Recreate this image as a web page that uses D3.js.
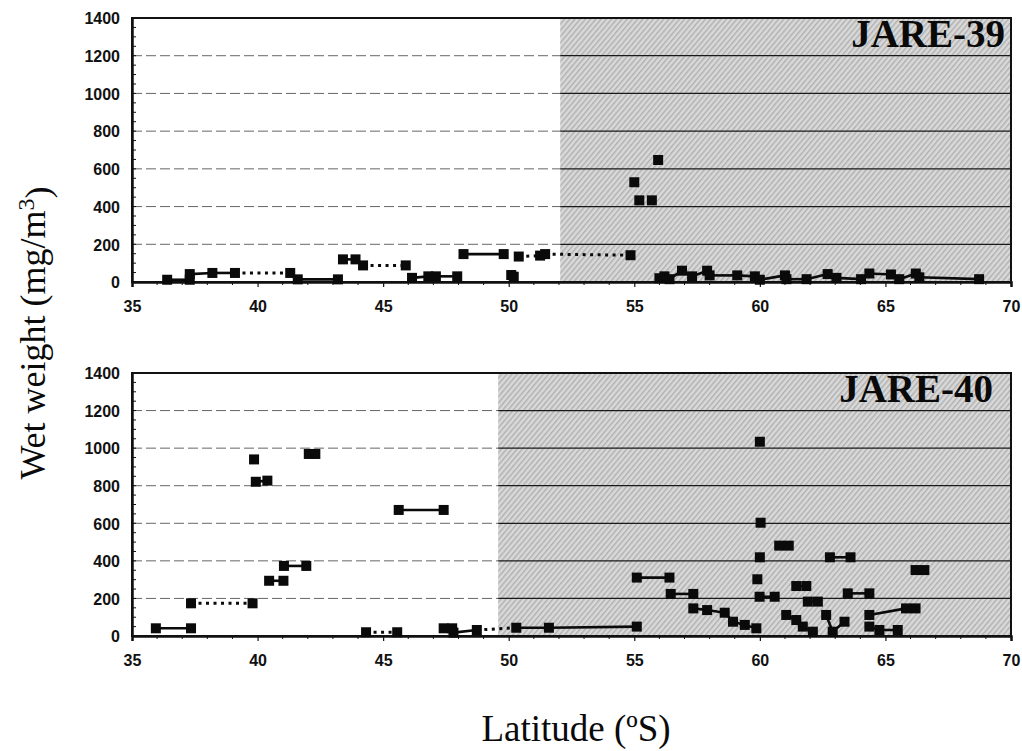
<!DOCTYPE html>
<html>
<head>
<meta charset="utf-8">
<script src="https://cdn.jsdelivr.net/npm/d3@7"></script>
<style>
  body { margin: 0; background: #fff; }
  svg { display: block; }
  .tick-label { font-family: "Liberation Sans", Arial, sans-serif; font-weight: bold; font-size: 16px; }
  .serif { font-family: "Liberation Serif", "Times New Roman", serif; }
</style>
</head>
<body>
<svg></svg>
<script>
const width = 1022;
const height = 751;

// Latitude ticks and weight ticks
const latTicks = [35, 40, 45, 50, 55, 60, 65, 70];
const wtTicks = [0, 200, 400, 600, 800, 1000, 1200, 1400];

// JARE-39 (upper panel): latitude, wet weight, and join to next point ("-" solid, ":" dotted, " " none)
const lat39 = [36.4, 37.3, 37.3, 38.2, 39.1, 41.3, 41.6, 43.2, 43.4, 43.9, 44.2, 45.9,
  46.15, 46.8, 47.1, 47.95, 48.2, 49.8, 50.1, 50.2, 50.4, 51.25, 51.45, 54.85,
  55.0, 55.2, 55.7, 55.95,
  56.0, 56.2, 56.4, 56.9, 57.3, 57.9, 58.0, 59.1, 59.8, 60.0, 61.0, 61.06, 61.86,
  62.7, 63.05, 64.03, 64.36, 65.22, 65.55, 66.21, 66.35, 68.73];
const wt39 = [12, 12, 42, 48, 48, 48, 14, 14, 120, 120, 88, 88,
  22, 30, 30, 30, 148, 148, 37, 28, 135, 140, 148, 142,
  529, 433, 433, 647,
  20, 30, 15, 60, 30, 60, 35, 35, 30, 12, 35, 15, 15,
  42, 22, 15, 45, 40, 15, 45, 25, 15];
const join39 = ["-", " ", "-", "-", ":", " ", "-", " ", "-", "-", ":", " ",
  "-", "-", "-", " ", "-", " ", " ", " ", ":", "-", ":", " ",
  " ", " ", " ", " ",
  "-", "-", "-", "-", "-", "-", "-", "-", "-", "-", "-", "-", "-",
  "-", "-", "-", "-", "-", "-", "-", "-", " "];

// JARE-40 (lower panel)
const lat40 = [35.95, 37.35, 37.35, 39.8, 39.86, 39.93, 40.39, 40.46, 41.03, 41.05, 41.94, 42.04, 42.3,
  44.32, 45.56, 45.62, 47.41, 47.41, 47.75, 47.8, 48.73, 50.3, 51.6, 55.1, 55.1, 56.4,
  56.45, 57.35, 57.35, 57.9, 58.6, 58.93, 59.4, 59.86, 60.0, 60.03, 60.0, 59.9, 59.99, 60.59,
  60.77, 61.15, 61.05, 61.45, 61.71, 62.11, 61.45, 61.85, 61.91, 62.31, 62.64, 62.9, 63.37,
  62.79, 63.61, 63.5, 64.36, 64.36, 64.76, 65.49, 64.36, 65.82, 66.2, 66.2, 66.55];
const wt40 = [41, 41, 174, 174, 940, 821, 827, 294, 294, 373, 373, 969, 969,
  20, 20, 671, 671, 41, 41, 18, 32, 44, 44, 50, 311, 311,
  224, 224, 147, 138, 124, 76, 59, 41, 1034, 603, 419, 302, 209, 209,
  481, 481, 112, 85, 50, 23, 266, 266, 183, 183, 112, 23, 76,
  419, 419, 227, 227, 50, 32, 32, 112, 147, 147, 351, 351];
const join40 = ["-", " ", ":", " ", " ", "-", " ", "-", " ", "-", " ", "-", " ",
  ":", " ", "-", " ", "-", "-", "-", ":", "-", "-", " ", "-", " ",
  "-", " ", "-", "-", "-", "-", "-", " ", " ", " ", " ", " ", "-", " ",
  "-", " ", "-", "-", "-", " ", "-", " ", "-", " ", "-", "-", " ",
  "-", " ", "-", " ", "-", "-", " ", "-", "-", " ", "-", " "];

const svg = d3.select("svg")
  .attr("width", width)
  .attr("height", height);

svg.append("rect").attr("width", width).attr("height", height).attr("fill", "#fff");

const defs = svg.append("defs");
const pat = defs.append("pattern")
  .attr("id", "shade")
  .attr("width", 4)
  .attr("height", 4)
  .attr("patternUnits", "userSpaceOnUse")
  .attr("patternTransform", "rotate(40)");
pat.append("rect").attr("width", 4).attr("height", 4).attr("fill", "#d9d9d9");
pat.append("rect").attr("width", 1.4).attr("height", 4).attr("fill", "#afafaf");

const x = d3.scaleLinear().domain([35, 70]).range([132, 1011]);

function drawPanel(cfg) {
  const y = d3.scaleLinear().domain([0, 1400]).range([cfg.bottom, cfg.top]);
  const g = svg.append("g");

  // shaded (south of the front) region
  g.append("rect")
    .attr("x", x(cfg.shadeFrom))
    .attr("y", y(1400))
    .attr("width", x(70) - x(cfg.shadeFrom))
    .attr("height", y(0) - y(1400))
    .attr("fill", "url(#shade)");

  // gridlines
  const grid = wtTicks.filter(function(v) { return v > 0 && v < 1400; });
  g.selectAll("line.grid-w")
    .data(grid)
    .join("line")
    .attr("class", "grid-w")
    .attr("x1", x(35)).attr("x2", x(cfg.shadeFrom))
    .attr("y1", function(d) { return y(d); })
    .attr("y2", function(d) { return y(d); })
    .attr("stroke", "#666")
    .attr("stroke-width", 1)
    .attr("stroke-dasharray", "10,4");
  g.selectAll("line.grid-s")
    .data(grid)
    .join("line")
    .attr("class", "grid-s")
    .attr("x1", x(cfg.shadeFrom)).attr("x2", x(70))
    .attr("y1", function(d) { return y(d); })
    .attr("y2", function(d) { return y(d); })
    .attr("stroke", "#1a1a1a")
    .attr("stroke-width", 1.3);

  // frame
  g.append("rect")
    .attr("x", x(35)).attr("y", y(1400))
    .attr("width", x(70) - x(35)).attr("height", y(0) - y(1400))
    .attr("fill", "none").attr("stroke", "#111").attr("stroke-width", 2);

  // y axis
  const yAxis = g.append("g")
    .attr("transform", "translate(" + x(35) + ",0)")
    .call(d3.axisLeft(y).tickValues(wtTicks).tickFormat(d3.format("d")).tickSize(0).tickPadding(12));
  yAxis.select(".domain").attr("stroke", "#111").attr("stroke-width", 2.5);
  yAxis.selectAll("text").attr("class", "tick-label").attr("fill", "#111").attr("dy", "0.36em");

  g.selectAll("line.yminor")
    .data(d3.range(50, 1400, 50))
    .join("line")
    .attr("class", "yminor")
    .attr("x1", x(35)).attr("x2", x(35) + 4)
    .attr("y1", function(d) { return y(d); })
    .attr("y2", function(d) { return y(d); })
    .attr("stroke", "#111").attr("stroke-width", 1);

  // x axis
  const xAxis = g.append("g")
    .attr("transform", "translate(0," + y(0) + ")")
    .call(d3.axisBottom(x).tickValues(latTicks).tickFormat(d3.format("d")).tickSize(5).tickPadding(14));
  xAxis.select(".domain").attr("stroke", "#111").attr("stroke-width", 2.5);
  xAxis.selectAll(".tick line").attr("stroke", "#111").attr("stroke-width", 1.2);
  xAxis.selectAll("text").attr("class", "tick-label").attr("fill", "#111");

  g.selectAll("line.xminor")
    .data(d3.range(36, 70, 1).filter(function(v) { return v % 5 !== 0; }))
    .join("line")
    .attr("class", "xminor")
    .attr("x1", function(d) { return x(d); })
    .attr("x2", function(d) { return x(d); })
    .attr("y1", y(0)).attr("y2", y(0) + 3)
    .attr("stroke", "#111").attr("stroke-width", 1);

  // connections
  const pts = cfg.lat.map(function(v, i) {
    return { lat: v, wt: cfg.wt[i], join: cfg.join[i] };
  });
  const segs = [];
  for (let i = 0; i < pts.length - 1; i++) {
    if (pts[i].join !== " ") segs.push({ a: pts[i], b: pts[i + 1], style: pts[i].join });
  }
  g.selectAll("line.seg")
    .data(segs)
    .join("line")
    .attr("class", "seg")
    .attr("x1", function(d) { return x(d.a.lat); })
    .attr("y1", function(d) { return y(d.a.wt); })
    .attr("x2", function(d) { return x(d.b.lat); })
    .attr("y2", function(d) { return y(d.b.wt); })
    .attr("stroke", "#0a0a0a")
    .attr("stroke-width", function(d) { return d.style === ":" ? 3 : 2.6; })
    .attr("stroke-dasharray", function(d) { return d.style === ":" ? "3,4.5" : null; });

  // markers
  const s = 10;
  g.selectAll("rect.mark")
    .data(pts)
    .join("rect")
    .attr("class", "mark")
    .attr("x", function(d) { return x(d.lat) - s / 2; })
    .attr("y", function(d) { return y(d.wt) - s / 2; })
    .attr("width", s).attr("height", s)
    .attr("fill", "#0a0a0a");

  // panel title
  g.append("text")
    .attr("class", "serif")
    .attr("x", cfg.titleX)
    .attr("y", y(1400) + 29)
    .attr("text-anchor", "end")
    .attr("font-size", 39)
    .attr("font-weight", "bold")
    .attr("fill", "#0a0a0a")
    .text(cfg.title);
}

drawPanel({ top: 18, bottom: 282, shadeFrom: 52.05, lat: lat39, wt: wt39, join: join39, title: "JARE-39", titleX: 1005 });
drawPanel({ top: 373, bottom: 636, shadeFrom: 49.58, lat: lat40, wt: wt40, join: join40, title: "JARE-40", titleX: 993 });

// axis titles
const yTitle = svg.append("text")
  .attr("class", "serif")
  .attr("transform", "translate(45,333) rotate(-90)")
  .attr("text-anchor", "middle")
  .attr("font-size", 36)
  .attr("fill", "#0a0a0a");
yTitle.append("tspan").text("Wet weight (mg/m");
yTitle.append("tspan").attr("dy", "-0.45em").attr("font-size", 24).text("3");
yTitle.append("tspan").attr("dy", "0.45em").text(")");

svg.append("text")
  .attr("class", "serif")
  .attr("x", 576)
  .attr("y", 741)
  .attr("text-anchor", "middle")
  .attr("font-size", 37)
  .attr("fill", "#0a0a0a")
  .text("Latitude (ºS)");
</script>
</body>
</html>
